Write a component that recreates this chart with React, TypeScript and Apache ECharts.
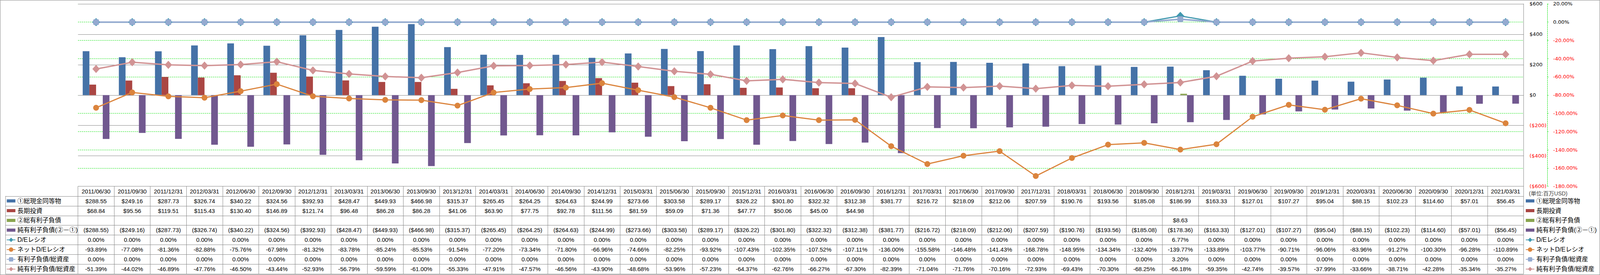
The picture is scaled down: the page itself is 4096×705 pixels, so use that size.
import React, { useEffect, useRef } from "react";
import * as echarts from "echarts";

const dates = [
  "2011/06/30", "2011/09/30", "2011/12/31", "2012/03/31", "2012/06/30", "2012/09/30", "2012/12/31", "2013/03/31",
  "2013/06/30", "2013/09/30", "2013/12/31", "2014/03/31", "2014/06/30", "2014/09/30", "2014/12/31", "2015/03/31",
  "2015/06/30", "2015/09/30", "2015/12/31", "2016/03/31", "2016/06/30", "2016/09/30", "2016/12/31", "2017/03/31",
  "2017/06/30", "2017/09/30", "2017/12/31", "2018/03/31", "2018/06/30", "2018/09/30", "2018/12/31", "2019/03/31",
  "2019/06/30", "2019/09/30", "2019/12/31", "2020/03/31", "2020/06/30", "2020/09/30", "2020/12/31", "2021/03/31",
];

const cash = [
  288.55, 249.16, 287.73, 326.74, 340.22, 324.56, 392.93, 428.47, 449.93, 466.98,
  315.37, 265.45, 264.25, 264.63, 244.99, 273.66, 303.58, 289.17, 326.22, 301.8,
  322.32, 312.38, 381.77, 216.72, 218.09, 212.06, 207.59, 190.76, 193.56, 185.08,
  186.99, 163.33, 127.01, 107.27, 95.04, 88.15, 102.23, 114.6, 57.01, 56.45,
];

const longInv = [
  68.84, 95.56, 119.51, 115.43, 130.4, 146.89, 121.74, 96.48, 86.28, 86.28,
  41.06, 63.9, 77.75, 92.78, 111.56, 81.59, 59.09, 71.36, 47.77, 50.06,
  45.0, 44.98, null, null, null, null, null, null, null, null,
  null, null, null, null, null, null, null, null, null, null,
];

const debt = [
  null, null, null, null, null, null, null, null, null, null,
  null, null, null, null, null, null, null, null, null, null,
  null, null, null, null, null, null, null, null, null, null,
  8.63, null, null, null, null, null, null, null, null, null,
];

const netDebt = [
  -288.55, -249.16, -287.73, -326.74, -340.22, -324.56, -392.93, -428.47, -449.93, -466.98,
  -315.37, -265.45, -264.25, -264.63, -244.99, -273.66, -303.58, -289.17, -326.22, -301.8,
  -322.32, -312.38, -381.77, -216.72, -218.09, -212.06, -207.59, -190.76, -193.56, -185.08,
  -178.36, -163.33, -127.01, -107.27, -95.04, -88.15, -102.23, -114.6, -57.01, -56.45,
];

const deRatio = [
  0, 0, 0, 0, 0, 0, 0, 0, 0, 0,
  0, 0, 0, 0, 0, 0, 0, 0, 0, 0,
  0, 0, 0, 0, 0, 0, 0, 0, 0, 0,
  6.77, 0, 0, 0, 0, 0, 0, 0, 0, 0,
];

const netDeRatio = [
  -93.89, -77.08, -81.36, -82.88, -75.76, -67.98, -81.32, -83.78, -85.24, -85.53,
  -91.54, -77.2, -73.34, -71.8, -66.96, -74.66, -82.25, -93.92, -107.43, -102.35,
  -107.52, -107.11, -136.0, -155.58, -146.48, -141.43, -168.78, -148.95, -134.34, -132.4,
  -139.77, -133.89, -103.77, -90.71, -96.06, -83.96, -91.27, -100.3, -96.28, -110.89,
];

const debtToAssets = [
  0, 0, 0, 0, 0, 0, 0, 0, 0, 0,
  0, 0, 0, 0, 0, 0, 0, 0, 0, 0,
  0, 0, 0, 0, 0, 0, 0, 0, 0, 0,
  3.2, 0, 0, 0, 0, 0, 0, 0, 0, 0,
];

const netDebtToAssets = [
  -51.39, -44.02, -46.89, -47.76, -46.5, -43.44, -52.93, -56.79, -59.59, -61.0,
  -55.33, -47.91, -47.57, -46.56, -43.9, -48.68, -53.96, -57.23, -64.37, -62.76,
  -66.27, -67.3, -82.39, -71.04, -71.76, -70.16, -72.93, -69.43, -70.3, -68.25,
  -66.18, -59.35, -42.74, -39.57, -37.99, -33.66, -38.71, -42.28, -35.34, -35.27,
];

const seriesNames = [
  "①総現金同等物",
  "長期投資",
  "②総有利子負債",
  "純有利子負債(②－①)",
  "D/Eレシオ",
  "ネットD/Eレシオ",
  "有利子負債/総資産",
  "純有利子負債/総資産",
];

const unitLabel = "(単位:百万USD)";

const COLORS = ["#4572A7", "#AA4643", "#89A54E", "#71588F", "#4198AF", "#DB843D", "#94AAD0", "#D19394"];
const GREEN = "#00E000";
const GREY = "#868686";

const W = 4096;
const H = 705;
const GRID_L = 199.7;
const GRID_R = 3900.6;
const GRID_T = 9.9;
const GRID_B = 477.6;
const ROW_H = 24.97;
const TABLE_L = 13.8;
const FONT_TABLE = "'Liberation Sans', 'Noto Sans CJK JP', sans-serif";
const FONT_AXIS = "'DejaVu Sans', sans-serif";

const money = (v: number | null) =>
  v == null ? "" : v < 0 ? `($${(-v).toFixed(2)})` : `$${v.toFixed(2)}`;
const pct = (v: number | null) => (v == null ? "" : `${v.toFixed(2)}%`);

export default function App() {
  const ref = useRef<HTMLDivElement>(null);

  useEffect(() => {
    if (!ref.current) return;
    const chart = echarts.init(ref.current, undefined, { renderer: "svg" });

    const BAR_ICON = "path://M0,0H22V8H0Z";
    const legendData = seriesNames.map((n, i) => (i < 4 ? { name: n, icon: BAR_ICON } : { name: n }));
    const legendCommon = {
      orient: "vertical",
      top: GRID_B + ROW_H,
      itemGap: 0,
      itemWidth: 22,
      itemHeight: 14,
      padding: 0,
      selectedMode: false,
      textStyle: { fontSize: 16, lineHeight: ROW_H, fontFamily: FONT_TABLE, color: "#000" },
      data: legendData,
    };

    const tableLabel = (_v: string, i: number) =>
      [
        dates[i],
        money(cash[i]),
        money(longInv[i]),
        money(debt[i]),
        money(netDebt[i]),
        pct(deRatio[i]),
        pct(netDeRatio[i]),
        pct(debtToAssets[i]),
        pct(netDebtToAssets[i]),
      ].join("\n");

    const hLines: any[] = [];
    for (let k = 1; k <= 9; k++) {
      const y = Math.round(GRID_B + k * ROW_H) + 0.5;
      hLines.push({
        type: "line",
        shape: { x1: TABLE_L, y1: y, x2: GRID_R, y2: y },
        style: { stroke: GREY, lineWidth: 1 },
        silent: true,
      });
    }

    const barBase = { type: "bar", yAxisIndex: 0, barGap: "0%", barCategoryGap: "26%" };

    const option: any = {
      animation: false,
      backgroundColor: "#ffffff",
      grid: { left: GRID_L, right: W - GRID_R, top: GRID_T, bottom: H - GRID_B, containLabel: false },
      legend: [
        { ...legendCommon, left: 3905 },
        { ...legendCommon, left: 16.4 },
      ],
      xAxis: {
        type: "category",
        data: dates,
        position: "bottom",
        boundaryGap: true,
        axisLine: { show: false, onZero: false },
        axisTick: { show: true, interval: 0, length: 9 * ROW_H, lineStyle: { color: GREY, width: 1 } },
        axisLabel: {
          interval: 0,
          margin: 0,
          verticalAlign: "top",
          lineHeight: ROW_H,
          fontSize: 15,
          fontFamily: FONT_TABLE,
          color: "#000",
          formatter: tableLabel,
        },
        splitLine: { show: false },
      },
      yAxis: [
        {
          type: "value",
          position: "right",
          min: -600,
          max: 600,
          interval: 200,
          z: 1,
          axisLine: { show: true, lineStyle: { color: GREY, width: 1 } },
          axisTick: { show: false },
          axisLabel: {
            margin: 15,
            fontSize: 13,
            fontFamily: FONT_AXIS,
            color: (v: any) => (Number(v) < 0 ? "#FF0000" : "#000000"),
            formatter: (v: number) => (v < 0 ? `($${-v})` : `$${v}`),
          },
          splitLine: { show: true, lineStyle: { color: GREY, width: 1 } },
        },
        {
          type: "value",
          position: "right",
          offset: 60.4,
          min: -180,
          max: 20,
          interval: 20,
          z: 0,
          axisLine: { show: true, lineStyle: { color: GREEN, width: 1, type: [3, 2] } },
          axisTick: { show: true, length: 5, lineStyle: { color: GREEN, width: 1, type: [3, 2] } },
          axisLabel: {
            margin: 15,
            fontSize: 13,
            fontFamily: FONT_AXIS,
            color: (v: any) => (Number(v) < 0 ? "#FF0000" : "#000000"),
            formatter: (v: number) => `${v.toFixed(2)}%`,
          },
          splitLine: { show: true, lineStyle: { color: GREEN, width: 1, type: [3, 2] } },
        },
      ],
      graphic: [
        {
          type: "rect",
          shape: { x: 0.5, y: 0.5, width: W - 1, height: H - 1 },
          style: { fill: "none", stroke: GREY, lineWidth: 1 },
          silent: true,
          z: 10,
        },
        ...hLines,
        {
          type: "line",
          shape: { x1: TABLE_L + 0.5, y1: GRID_B + ROW_H, x2: TABLE_L + 0.5, y2: GRID_B + 9 * ROW_H },
          style: { stroke: GREY, lineWidth: 1 },
          silent: true,
        },
        {
          type: "text",
          x: 3914,
          y: 496,
          style: {
            text: unitLabel,
            fontSize: 14,
            fontFamily: FONT_TABLE,
            fill: "#404040",
            verticalAlign: "middle",
          },
          silent: true,
        },
      ],
      series: [
        { ...barBase, name: seriesNames[0], data: cash, itemStyle: { color: COLORS[0] } },
        { ...barBase, name: seriesNames[1], data: longInv, itemStyle: { color: COLORS[1] } },
        { ...barBase, name: seriesNames[2], data: debt, itemStyle: { color: COLORS[2] } },
        { ...barBase, name: seriesNames[3], data: netDebt, itemStyle: { color: COLORS[3] } },
        {
          type: "line",
          name: seriesNames[4],
          yAxisIndex: 1,
          data: deRatio,
          symbol: "diamond",
          symbolSize: [20, 21],
          showAllSymbol: true,
          lineStyle: { color: COLORS[4], width: 3 },
          itemStyle: { color: COLORS[4] },
        },
        {
          type: "line",
          name: seriesNames[5],
          yAxisIndex: 1,
          data: netDeRatio,
          symbol: "circle",
          symbolSize: 15,
          showAllSymbol: true,
          lineStyle: { color: COLORS[5], width: 3 },
          itemStyle: { color: COLORS[5] },
        },
        {
          type: "line",
          name: seriesNames[6],
          yAxisIndex: 1,
          data: debtToAssets,
          symbol: "roundRect",
          symbolSize: 15,
          showAllSymbol: true,
          lineStyle: { color: COLORS[6], width: 4 },
          itemStyle: { color: COLORS[6] },
        },
        {
          type: "line",
          name: seriesNames[7],
          yAxisIndex: 1,
          data: netDebtToAssets,
          symbol: "diamond",
          symbolSize: [19, 21],
          showAllSymbol: true,
          lineStyle: { color: COLORS[7], width: 3.5 },
          itemStyle: { color: COLORS[7] },
        },
      ],
    };

    chart.setOption(option);
    return () => {
      chart.dispose();
    };
  }, []);

  return (
    <div
      ref={ref}
      style={{ position: "absolute", left: 0, top: 0, width: W, height: H, background: "#fff" }}
    />
  );
}
